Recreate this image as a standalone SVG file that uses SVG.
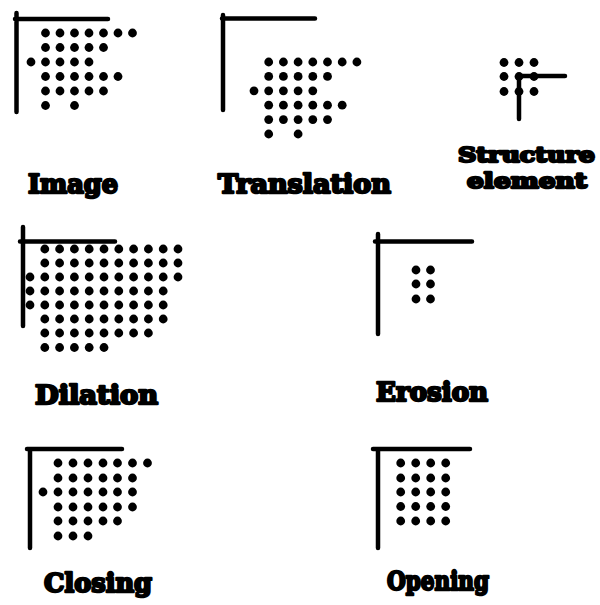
<svg xmlns="http://www.w3.org/2000/svg" xmlns:xlink="http://www.w3.org/1999/xlink" width="600" height="605" viewBox="0 0 600 605">
<style>
.ax{fill:none;stroke:#000;stroke-width:4.5;stroke-linecap:round;stroke-linejoin:round}
.lb{font-family:"DejaVu Serif","Liberation Serif",serif;font-weight:bold;fill:#000;stroke:#000;stroke-width:2.4;stroke-linejoin:round}
</style>
<defs><circle id="d" r="4.4" fill="#000"/></defs>
<rect width="600" height="605" fill="#fff"/>
<g id="image">
<path class="ax" d="M15,19H108M16.5,13V112"/>
<g>
<use href="#d" x="45.5" y="33"/><use href="#d" x="60" y="33"/><use href="#d" x="74.5" y="33"/><use href="#d" x="89" y="33"/><use href="#d" x="103.5" y="33"/><use href="#d" x="118" y="33"/><use href="#d" x="132.5" y="33"/>
<use href="#d" x="45.5" y="47.5"/><use href="#d" x="60" y="47.5"/><use href="#d" x="74.5" y="47.5"/><use href="#d" x="89" y="47.5"/><use href="#d" x="103.5" y="47.5"/>
<use href="#d" x="31" y="62"/><use href="#d" x="45.5" y="62"/><use href="#d" x="60" y="62"/><use href="#d" x="74.5" y="62"/><use href="#d" x="89" y="62"/>
<use href="#d" x="45.5" y="76.5"/><use href="#d" x="60" y="76.5"/><use href="#d" x="74.5" y="76.5"/><use href="#d" x="89" y="76.5"/><use href="#d" x="103.5" y="76.5"/><use href="#d" x="118" y="76.5"/>
<use href="#d" x="45.5" y="91"/><use href="#d" x="60" y="91"/><use href="#d" x="74.5" y="91"/><use href="#d" x="89" y="91"/><use href="#d" x="103.5" y="91"/>
<use href="#d" x="45.5" y="105.5"/><use href="#d" x="74.5" y="105.5"/>
</g>
<text class="lb" x="28" y="193" font-size="26" textLength="90" lengthAdjust="spacingAndGlyphs">Image</text>
</g>
<g id="translation">
<path class="ax" d="M222,18.5H315M223,15V110"/>
<g>
<use href="#d" x="268.7" y="62"/><use href="#d" x="283.4" y="62"/><use href="#d" x="298.1" y="62"/><use href="#d" x="312.8" y="62"/><use href="#d" x="327.5" y="62"/><use href="#d" x="342.2" y="62"/><use href="#d" x="356.9" y="62"/>
<use href="#d" x="268.7" y="76.4"/><use href="#d" x="283.4" y="76.4"/><use href="#d" x="298.1" y="76.4"/><use href="#d" x="312.8" y="76.4"/><use href="#d" x="327.5" y="76.4"/>
<use href="#d" x="254" y="90.8"/><use href="#d" x="268.7" y="90.8"/><use href="#d" x="283.4" y="90.8"/><use href="#d" x="298.1" y="90.8"/><use href="#d" x="312.8" y="90.8"/>
<use href="#d" x="268.7" y="105.2"/><use href="#d" x="283.4" y="105.2"/><use href="#d" x="298.1" y="105.2"/><use href="#d" x="312.8" y="105.2"/><use href="#d" x="327.5" y="105.2"/><use href="#d" x="342.2" y="105.2"/>
<use href="#d" x="268.7" y="119.6"/><use href="#d" x="283.4" y="119.6"/><use href="#d" x="298.1" y="119.6"/><use href="#d" x="312.8" y="119.6"/><use href="#d" x="327.5" y="119.6"/>
<use href="#d" x="268.7" y="134"/><use href="#d" x="298.1" y="134"/>
</g>
<text class="lb" x="218" y="193" font-size="26" textLength="173" lengthAdjust="spacingAndGlyphs">Translation</text>
</g>
<g id="structure-element">
<path class="ax" d="M519,76H565M519,76V119"/>
<g>
<use href="#d" x="504" y="62.5"/><use href="#d" x="519" y="62.5"/><use href="#d" x="534" y="62.5"/>
<use href="#d" x="504" y="76.5"/><use href="#d" x="519" y="76.5"/><use href="#d" x="534" y="76.5"/>
<use href="#d" x="504" y="91.5"/><use href="#d" x="519" y="91.5"/><use href="#d" x="534" y="91.5"/>
</g>
<text class="lb" x="458" y="162" font-size="21" textLength="137" lengthAdjust="spacingAndGlyphs">Structure</text>
<text class="lb" x="467" y="188" font-size="21" textLength="120" lengthAdjust="spacingAndGlyphs">element</text>
</g>
<g id="dilation">
<path class="ax" d="M20,241.5H115M23,227V326"/>
<g>
<use href="#d" x="44.8" y="249"/><use href="#d" x="59.6" y="249"/><use href="#d" x="74.4" y="249"/><use href="#d" x="89.2" y="249"/><use href="#d" x="104" y="249"/><use href="#d" x="118.8" y="249"/><use href="#d" x="133.6" y="249"/><use href="#d" x="148.4" y="249"/><use href="#d" x="163.2" y="249"/><use href="#d" x="178" y="249"/>
<use href="#d" x="44.8" y="263"/><use href="#d" x="59.6" y="263"/><use href="#d" x="74.4" y="263"/><use href="#d" x="89.2" y="263"/><use href="#d" x="104" y="263"/><use href="#d" x="118.8" y="263"/><use href="#d" x="133.6" y="263"/><use href="#d" x="148.4" y="263"/><use href="#d" x="163.2" y="263"/><use href="#d" x="178" y="263"/>
<use href="#d" x="30" y="277"/><use href="#d" x="44.8" y="277"/><use href="#d" x="59.6" y="277"/><use href="#d" x="74.4" y="277"/><use href="#d" x="89.2" y="277"/><use href="#d" x="104" y="277"/><use href="#d" x="118.8" y="277"/><use href="#d" x="133.6" y="277"/><use href="#d" x="148.4" y="277"/><use href="#d" x="163.2" y="277"/><use href="#d" x="178" y="277"/>
<use href="#d" x="30" y="291"/><use href="#d" x="44.8" y="291"/><use href="#d" x="59.6" y="291"/><use href="#d" x="74.4" y="291"/><use href="#d" x="89.2" y="291"/><use href="#d" x="104" y="291"/><use href="#d" x="118.8" y="291"/><use href="#d" x="133.6" y="291"/><use href="#d" x="148.4" y="291"/><use href="#d" x="163.2" y="291"/>
<use href="#d" x="30" y="305"/><use href="#d" x="44.8" y="305"/><use href="#d" x="59.6" y="305"/><use href="#d" x="74.4" y="305"/><use href="#d" x="89.2" y="305"/><use href="#d" x="104" y="305"/><use href="#d" x="118.8" y="305"/><use href="#d" x="133.6" y="305"/><use href="#d" x="148.4" y="305"/><use href="#d" x="163.2" y="305"/>
<use href="#d" x="44.8" y="319"/><use href="#d" x="59.6" y="319"/><use href="#d" x="74.4" y="319"/><use href="#d" x="89.2" y="319"/><use href="#d" x="104" y="319"/><use href="#d" x="118.8" y="319"/><use href="#d" x="133.6" y="319"/><use href="#d" x="148.4" y="319"/><use href="#d" x="163.2" y="319"/>
<use href="#d" x="44.8" y="333"/><use href="#d" x="59.6" y="333"/><use href="#d" x="74.4" y="333"/><use href="#d" x="89.2" y="333"/><use href="#d" x="104" y="333"/><use href="#d" x="118.8" y="333"/><use href="#d" x="133.6" y="333"/><use href="#d" x="148.4" y="333"/>
<use href="#d" x="44.8" y="347.5"/><use href="#d" x="59.6" y="347.5"/><use href="#d" x="74.4" y="347.5"/><use href="#d" x="89.2" y="347.5"/><use href="#d" x="104" y="347.5"/>
</g>
<text class="lb" x="35" y="404" font-size="26" textLength="123" lengthAdjust="spacingAndGlyphs">Dilation</text>
</g>
<g id="erosion">
<path class="ax" d="M375,241.5H472M378,234V334"/>
<g>
<use href="#d" x="416" y="270"/><use href="#d" x="430.5" y="270"/>
<use href="#d" x="416" y="284"/><use href="#d" x="430.5" y="284"/>
<use href="#d" x="416" y="299"/><use href="#d" x="430.5" y="299"/>
</g>
<text class="lb" x="376" y="401" font-size="26" textLength="112" lengthAdjust="spacingAndGlyphs">Erosion</text>
</g>
<g id="closing">
<path class="ax" d="M27,449H122M30,449V548"/>
<g>
<use href="#d" x="58" y="463"/><use href="#d" x="73" y="463"/><use href="#d" x="88" y="463"/><use href="#d" x="103" y="463"/><use href="#d" x="117.5" y="463"/><use href="#d" x="132.5" y="463"/><use href="#d" x="147.5" y="463"/>
<use href="#d" x="58" y="478"/><use href="#d" x="73" y="478"/><use href="#d" x="88" y="478"/><use href="#d" x="103" y="478"/><use href="#d" x="117.5" y="478"/><use href="#d" x="132.5" y="478"/>
<use href="#d" x="43" y="492"/><use href="#d" x="58" y="492"/><use href="#d" x="73" y="492"/><use href="#d" x="88" y="492"/><use href="#d" x="103" y="492"/><use href="#d" x="117.5" y="492"/><use href="#d" x="132.5" y="492"/>
<use href="#d" x="58" y="507"/><use href="#d" x="73" y="507"/><use href="#d" x="88" y="507"/><use href="#d" x="103" y="507"/><use href="#d" x="117.5" y="507"/><use href="#d" x="132.5" y="507"/>
<use href="#d" x="58" y="521"/><use href="#d" x="73" y="521"/><use href="#d" x="88" y="521"/><use href="#d" x="103" y="521"/><use href="#d" x="117.5" y="521"/>
<use href="#d" x="58" y="536"/><use href="#d" x="73" y="536"/><use href="#d" x="88" y="536"/>
</g>
<text class="lb" x="44" y="592" font-size="26" textLength="108" lengthAdjust="spacingAndGlyphs">Closing</text>
</g>
<g id="opening">
<path class="ax" d="M373,449H470M378,449V548"/>
<g>
<use href="#d" x="400.7" y="463"/><use href="#d" x="415.7" y="463"/><use href="#d" x="430.7" y="463"/><use href="#d" x="445.7" y="463"/>
<use href="#d" x="400.7" y="478"/><use href="#d" x="415.7" y="478"/><use href="#d" x="430.7" y="478"/><use href="#d" x="445.7" y="478"/>
<use href="#d" x="400.7" y="492"/><use href="#d" x="415.7" y="492"/><use href="#d" x="430.7" y="492"/><use href="#d" x="445.7" y="492"/>
<use href="#d" x="400.7" y="506.5"/><use href="#d" x="415.7" y="506.5"/><use href="#d" x="430.7" y="506.5"/><use href="#d" x="445.7" y="506.5"/>
<use href="#d" x="400.7" y="521"/><use href="#d" x="415.7" y="521"/><use href="#d" x="430.7" y="521"/><use href="#d" x="445.7" y="521"/>
</g>
<text class="lb" x="387" y="590" font-size="26" textLength="102" lengthAdjust="spacingAndGlyphs">Opening</text>
</g>
</svg>
